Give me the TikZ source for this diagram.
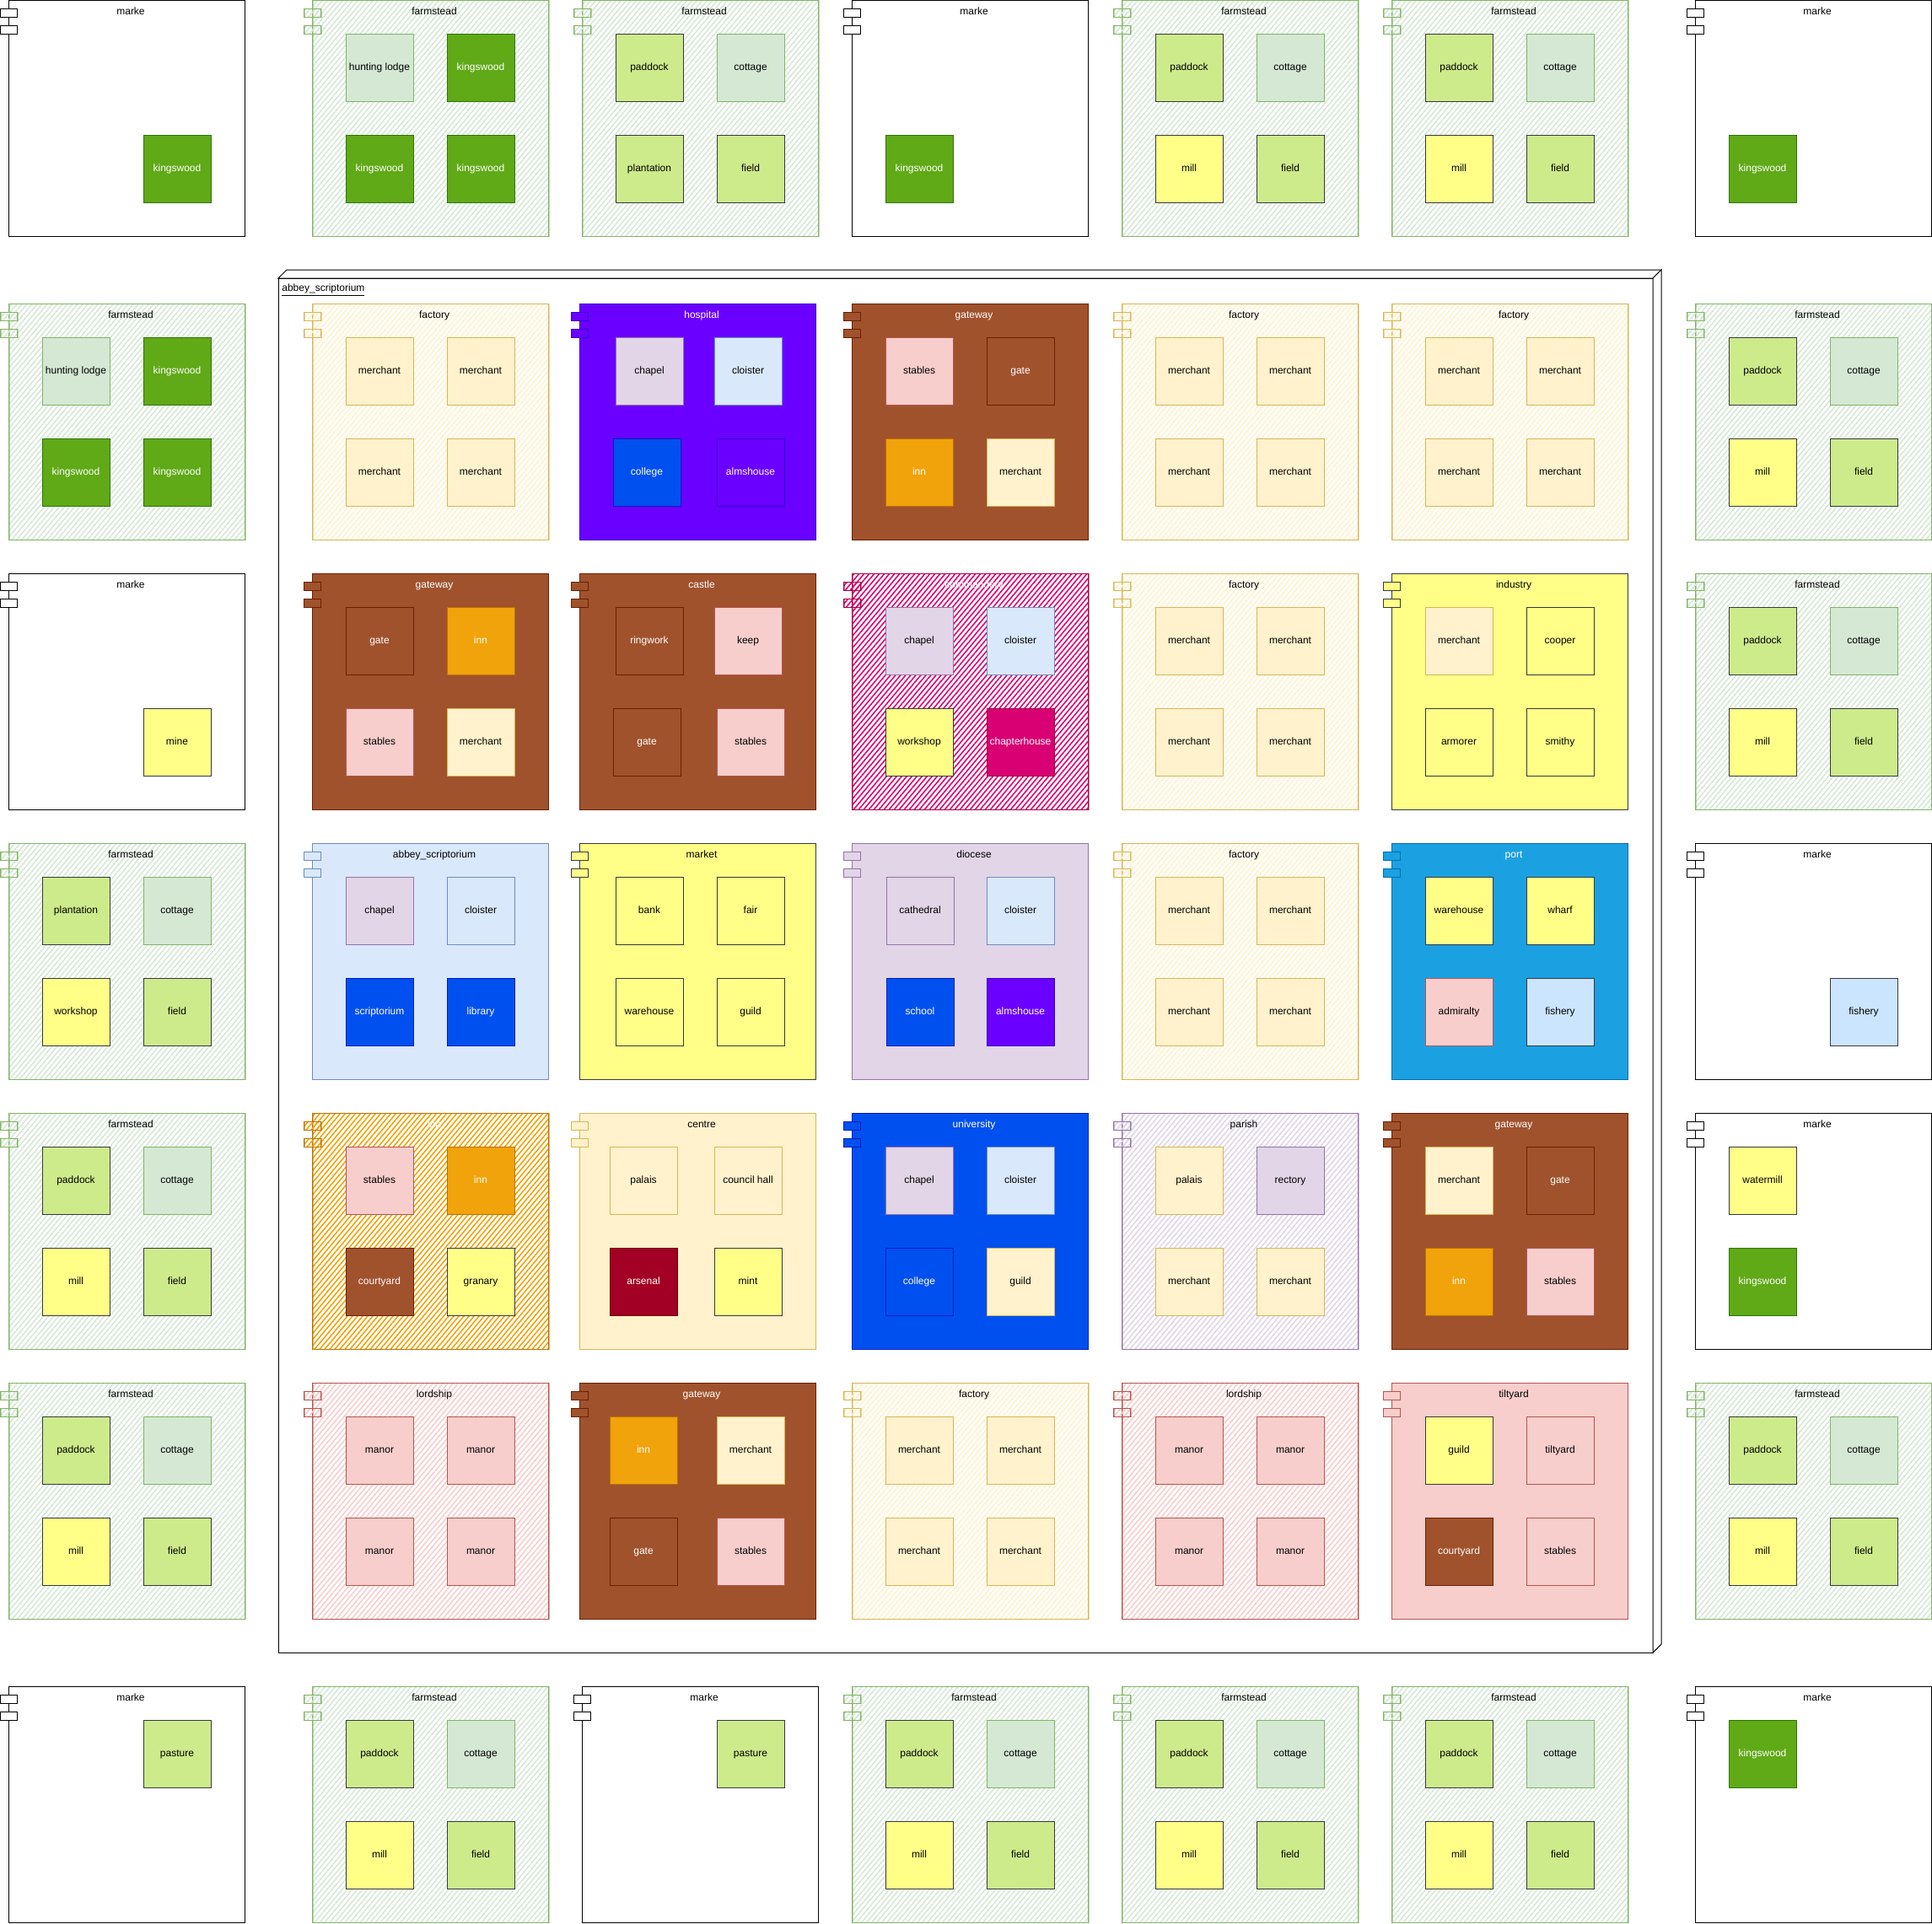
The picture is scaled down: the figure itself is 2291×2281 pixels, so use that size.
\documentclass[tikz,border=0pt]{standalone}
\usepackage{fontspec}
\setmainfont{Liberation Sans}
\usetikzlibrary{patterns.meta}
\definecolor{kwF}{HTML}{60A917}\definecolor{kwD}{HTML}{2D7600}
\definecolor{limeF}{HTML}{CDEB8B}\definecolor{darkD}{HTML}{36393D}
\definecolor{sageF}{HTML}{D5E8D4}\definecolor{sageD}{HTML}{82B366}
\definecolor{strawF}{HTML}{FFFF88}
\definecolor{creamF}{HTML}{FFF2CC}\definecolor{creamD}{HTML}{D6B656}
\definecolor{roseF}{HTML}{F8CECC}\definecolor{roseD}{HTML}{B85450}
\definecolor{rustF}{HTML}{A0522D}\definecolor{rustD}{HTML}{6D1F00}
\definecolor{amberF}{HTML}{F0A30A}\definecolor{amberD}{HTML}{BD7000}
\definecolor{lilacF}{HTML}{E1D5E7}\definecolor{lilacD}{HTML}{9673A6}
\definecolor{skyF}{HTML}{DAE8FC}\definecolor{skyD}{HTML}{6C8EBF}
\definecolor{cobaltF}{HTML}{0050EF}\definecolor{cobaltD}{HTML}{001DBC}
\definecolor{violetF}{HTML}{6A00FF}\definecolor{violetD}{HTML}{3700CC}
\definecolor{berryF}{HTML}{D80073}\definecolor{berryD}{HTML}{A50040}
\definecolor{wineF}{HTML}{A20025}\definecolor{wineD}{HTML}{6F0000}
\definecolor{iceF}{HTML}{CCE5FF}
\definecolor{harbourF}{HTML}{1BA1E2}\definecolor{harbourD}{HTML}{006EAF}

\tikzset{
  room/.style={draw,minimum width=40pt,minimum height=40pt,inner sep=0pt,
    line width=.5pt,font=\fontsize{6}{7}\selectfont,text height=4.4pt,text depth=1.3pt},
  boxtitle/.style={inner sep=0pt,font=\fontsize{6}{7}\selectfont,text height=4.4pt,text depth=1.3pt},
  flat/.style 2 args={fill=#1,draw=#2,line width=.5pt},
  sketch/.style 2 args={pattern={Lines[angle=50,distance=2.3pt,line width=.8pt]},
    pattern color=#1,draw=#2,line width=.5pt,
    postaction={draw=#2,line width=.35pt,opacity=.5,
      transform canvas={xshift=.5pt,yshift=-.4pt}}},
  kw/.style={fill=kwF,draw=kwD,text=white},
  lime/.style={fill=limeF,draw=darkD},
  sage/.style={fill=sageF,draw=sageD},
  straw/.style={fill=strawF,draw=darkD},
  cream/.style={fill=creamF,draw=creamD},
  rose/.style={fill=roseF,draw=roseD},
  rust/.style={fill=rustF,draw=rustD,text=white},
  amber/.style={fill=amberF,draw=amberD,text=white},
  lilac/.style={fill=lilacF,draw=lilacD},
  sky/.style={fill=skyF,draw=skyD},
  cobalt/.style={fill=cobaltF,draw=cobaltD,text=white},
  violet/.style={fill=violetF,draw=violetD,text=white},
  berry/.style={fill=berryF,draw=berryD,text=white},
  wine/.style={fill=wineF,draw=wineD,text=white},
  ice/.style={fill=iceF,draw=darkD},
}

% component frame in local coordinates: id, look, title, title colour
\newcommand{\compbox}[4]{%
  \path[#2] (0,0) rectangle (280,280);
  \path[#2] (-10,10) rectangle (10,20);
  \path[#2] (-10,30) rectangle (10,40);
  \node[boxtitle,text=#4] (#1) at (145,14) {#3};}
% rooms of a frame: id, list of style/text/x/y
\newcommand{\rooms}[2]{%
  \edef\roomlist{#2}%
  \foreach \s/\t/\px/\py [count=\k] in \roomlist
    \node[room,\s] (#1-\k) at (\px,\py) {\t};}

\begin{document}
\begin{tikzpicture}[x=.5pt,y=-.5pt,line join=miter]
  \useasboundingbox (0,0) rectangle (2291,2281);

  % the outer node box holding the inner 5 x 5 block
  \draw[fill=white,line width=.5pt] (330,330) rectangle (1960,1960);
  \draw[fill=white,line width=.5pt] (330,330) -- (340,320) -- (1970,320) -- (1960,330) -- cycle;
  \draw[fill=white,line width=.5pt] (1960,330) -- (1970,320) -- (1970,1950) -- (1960,1960) -- cycle;
  \node[boxtitle,anchor=west] (abbey) at (334,342) {\underline{abbey\_scriptorium}};

  % farmsteads with paddock, cottage, mill and field
  \foreach \X/\Y [count=\n] in {1330/0,1650/0,2010/360,2010/680,10/1320,10/1640,
      2010/1640,370/2000,1010/2000,1330/2000,1650/2000}{
    \begin{scope}[shift={(\X,\Y)}]
      \compbox{farm\n}{sketch={sageF}{sageD}}{farmstead}{black}
      \rooms{farm\n}{lime/paddock/80/80,sage/cottage/200/80,straw/mill/80/200,lime/field/200/200}
    \end{scope}}
  % farmsteads in the woods
  \foreach \X/\Y [count=\n] in {370/0,10/360}{
    \begin{scope}[shift={(\X,\Y)}]
      \compbox{wood\n}{sketch={sageF}{sageD}}{farmstead}{black}
      \rooms{wood\n}{sage/hunting lodge/80/80,kw/kingswood/200/80,kw/kingswood/80/200,kw/kingswood/200/200}
    \end{scope}}
  \begin{scope}[shift={(690,0)}]
    \compbox{farmA}{sketch={sageF}{sageD}}{farmstead}{black}
    \rooms{farmA}{lime/paddock/80/80,sage/cottage/200/80,lime/plantation/80/200,lime/field/200/200}
  \end{scope}
  \begin{scope}[shift={(10,1000)}]
    \compbox{farmB}{sketch={sageF}{sageD}}{farmstead}{black}
    \rooms{farmB}{lime/plantation/80/80,sage/cottage/200/80,straw/workshop/80/200,lime/field/200/200}
  \end{scope}

  % marke frames with a single room
  \foreach \X/\Y/\list [count=\n] in {10/0/{kw/kingswood/200/200},1010/0/{kw/kingswood/80/200},
      2010/0/{kw/kingswood/80/200},10/680/{straw/mine/200/200},2010/1000/{ice/fishery/200/200},
      2010/1320/{straw/watermill/80/80,kw/kingswood/80/200},10/2000/{lime/pasture/200/80},
      690/2000/{lime/pasture/200/80},2010/2000/{kw/kingswood/80/80}}{
    \begin{scope}[shift={(\X,\Y)}]
      \compbox{marke\n}{flat={white}{black}}{marke}{black}
      \rooms{marke\n}{\list}
    \end{scope}}

  % factories and lordships
  \foreach \X/\Y [count=\n] in {370/360,1330/360,1650/360,1330/680,1330/1000,1010/1640}{
    \begin{scope}[shift={(\X,\Y)}]
      \compbox{factory\n}{sketch={creamF}{creamD}}{factory}{black}
      \rooms{factory\n}{cream/merchant/80/80,cream/merchant/200/80,cream/merchant/80/200,cream/merchant/200/200}
    \end{scope}}
  \foreach \X/\Y [count=\n] in {370/1640,1330/1640}{
    \begin{scope}[shift={(\X,\Y)}]
      \compbox{lordship\n}{sketch={roseF}{roseD}}{lordship}{black}
      \rooms{lordship\n}{rose/manor/80/80,rose/manor/200/80,rose/manor/80/200,rose/manor/200/200}
    \end{scope}}

  % gateways
  \foreach \X/\Y/\list [count=\n] in {
      1010/360/{rose/stables/80/80,rust/gate/200/80,amber/inn/80/200,cream/merchant/200/200},
      370/680/{rust/gate/80/80,amber/inn/200/80,rose/stables/80/200,cream/merchant/200/200},
      1650/1320/{cream/merchant/80/80,rust/gate/200/80,amber/inn/80/200,rose/stables/200/200},
      687/1640/{amber/inn/76/80,cream/merchant/203/80,rust/gate/76/200,rose/stables/203/200}}{
    \begin{scope}[shift={(\X,\Y)}]
      \compbox{gateway\n}{flat={rustF}{rustD}}{gateway}{white}
      \rooms{gateway\n}{\list}
    \end{scope}}

  % the remaining frames of the inner block
  \begin{scope}[shift={(687,360)}]
    \compbox{hospital}{flat={violetF}{violetD}}{hospital}{white}
    \rooms{hospital}{lilac/chapel/83/80,sky/cloister/200/80,cobalt/college/80/200,violet/almshouse/203/200}
  \end{scope}
  \begin{scope}[shift={(687,680)}]
    \compbox{castle}{flat={rustF}{rustD}}{castle}{white}
    \rooms{castle}{rust/ringwork/83/80,rose/keep/200/80,rust/gate/80/200,rose/stables/203/200}
  \end{scope}
  \begin{scope}[shift={(1010,680)}]
    \compbox{commandery}{sketch={berryF}{berryD}}{commandery}{white}
    \rooms{commandery}{lilac/chapel/80/80,sky/cloister/200/80,straw/workshop/80/200,berry/chapterhouse/200/200}
  \end{scope}
  \begin{scope}[shift={(1650,680)}]
    \compbox{industry}{flat={strawF}{darkD}}{industry}{black}
    \rooms{industry}{cream/merchant/80/80,straw/cooper/200/80,straw/armorer/80/200,straw/smithy/200/200}
  \end{scope}
  \begin{scope}[shift={(370,1000)}]
    \compbox{scriptorium}{flat={skyF}{skyD}}{abbey\_scriptorium}{black}
    \rooms{scriptorium}{lilac/chapel/80/80,sky/cloister/200/80,cobalt/scriptorium/80/200,cobalt/library/200/200}
  \end{scope}
  \begin{scope}[shift={(687,1000)}]
    \compbox{market}{flat={strawF}{darkD}}{market}{black}
    \rooms{market}{straw/bank/83/80,straw/fair/203/80,straw/warehouse/83/200,straw/guild/203/200}
  \end{scope}
  \begin{scope}[shift={(1010,1000)}]
    \compbox{diocese}{flat={lilacF}{lilacD}}{diocese}{black}
    \rooms{diocese}{lilac/cathedral/81/80,sky/cloister/200/80,cobalt/school/81/200,violet/almshouse/200/200}
  \end{scope}
  \begin{scope}[shift={(1650,1000)}]
    \compbox{port}{flat={harbourF}{harbourD}}{port}{white}
    \rooms{port}{straw/warehouse/80/80,straw/wharf/200/80,rose/admiralty/80/200,ice/fishery/200/200}
  \end{scope}
  \begin{scope}[shift={(370,1320)}]
    \compbox{inn}{sketch={amberF}{amberD}}{inn}{white}
    \rooms{inn}{rose/stables/80/80,amber/inn/200/80,rust/courtyard/80/200,straw/granary/200/200}
  \end{scope}
  \begin{scope}[shift={(687,1320)}]
    \compbox{centre}{flat={creamF}{creamD}}{centre}{black}
    \rooms{centre}{cream/palais/76/80,cream/council hall/200/80,wine/arsenal/76/200,straw/mint/200/200}
  \end{scope}
  \begin{scope}[shift={(1010,1320)}]
    \compbox{university}{flat={cobaltF}{cobaltD}}{university}{white}
    \rooms{university}{lilac/chapel/80/80,sky/cloister/200/80,cobalt/college/80/200,cream/guild/200/200}
  \end{scope}
  \begin{scope}[shift={(1330,1320)}]
    \compbox{parish}{sketch={lilacF}{lilacD}}{parish}{black}
    \rooms{parish}{cream/palais/80/80,lilac/rectory/200/80,cream/merchant/80/200,cream/merchant/200/200}
  \end{scope}
  \begin{scope}[shift={(1650,1640)}]
    \compbox{tiltyard}{flat={roseF}{roseD}}{tiltyard}{black}
    \rooms{tiltyard}{straw/guild/80/80,rose/tiltyard/200/80,rust/courtyard/80/200,rose/stables/200/200}
  \end{scope}
\end{tikzpicture}
\end{document}
